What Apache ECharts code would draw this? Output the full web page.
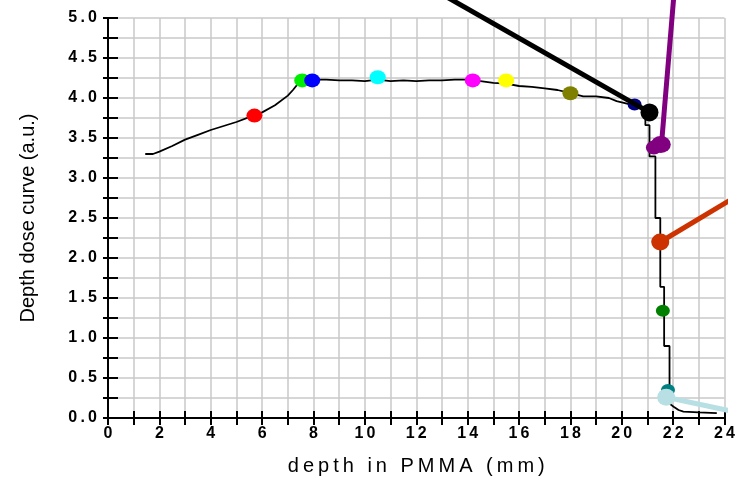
<!DOCTYPE html>
<html>
<head>
<meta charset="utf-8">
<script src="https://cdn.jsdelivr.net/npm/echarts@6/dist/echarts.min.js"></script>
<style>
	html,body{margin:0;padding:0;background:#fff;}
	#main{width:738px;height:484px;}
</style>
</head>
<body>
<div id="main"></div>
<script>
	// depth dose curve
	var depth = [1.45,1.75,2.0,2.5,3.0,3.5,4.0,4.5,5.0,5.5,6.0,6.5,7.0,7.2,7.45,7.6,8.0,8.5,9.0,9.5,10.0,10.5,11.0,11.5,12.0,12.5,13.0,13.5,14.0,14.5,15.0,15.5,16.0,16.5,17.0,17.5,18.0,18.5,19.0,19.5,19.8,20.2,20.5,20.9,20.92,20.92,21.08,21.08,21.31,21.31,21.5,21.5,21.65,21.65,21.86,21.86,22.02,22.21,22.4,23.0,23.7];
	var dose  = [3.30,3.30,3.33,3.40,3.48,3.54,3.60,3.65,3.70,3.76,3.82,3.91,4.03,4.10,4.20,4.23,4.23,4.23,4.22,4.22,4.21,4.23,4.21,4.22,4.21,4.22,4.22,4.23,4.23,4.21,4.19,4.18,4.15,4.14,4.12,4.10,4.06,4.02,4.02,4.00,3.96,3.93,3.91,3.85,3.78,3.66,3.66,3.27,3.27,2.50,2.50,1.64,1.64,0.90,0.90,0.18,0.14,0.10,0.08,0.07,0.06];

	// coloured dots on the curve
	var dotX = [5.7,7.56,7.95,10.5,14.2,15.5,18.0,20.5,21.6,21.8];
	var dotY = [3.78,4.22,4.22,4.26,4.22,4.22,4.06,3.92,1.34,0.35];

	// pointer lines: [start, end]
	var blackLine  = [[21.08,3.82],[12.0,5.48]];
	var purpleLine = [[21.56,3.47],[22.08,5.48]];
	var orangeLine = [[21.5,2.2],[25.24,2.92]];
	var blueLine   = [[21.73,0.26],[25.24,0.02]];

	// big dots at the end of the pointer lines
	var bigX = [21.08,21.25,21.52,21.4,21.5,21.73];
	var bigY = [3.82,3.38,3.42,2.2,2.2,0.26];

	// axes: grid every 1 mm / 0.25, labels every 2 mm / 0.5
	var xTicks = {min:0,max:24,step:1,labelEvery:2};
	var yTicks = {min:0,max:5,step:0.25,labelEvery:0.5};

	var dotColors = ['#ff0000','#00ee00','#0000ff','#00ffff','#ff00ff','#ffff00','#808000','#000080','#008000','#008080'];
	var bigColors = ['#000000','#800080','#800080','#991100','#cc3300','#b8e0e4'];
	var bigSizes = [[18,18],[16,14],[20,17],[12,13],[18,17],[18,17]];

	function spaced(s){ return String(s).split('').join('\u2009'); }
	function isMult(v,m){ var r = v/m; return Math.abs(r-Math.round(r))<1e-6; }

	var gridColor = '#c8c8c8';
	var font = 'Liberation Sans, Arial, sans-serif';
	var lbl = {color:'#000',fontFamily:font,fontWeight:'bold',fontSize:16};

	var line = [];
	for(var i=0;i<depth.length;i++){ line.push([depth[i],dose[i]]); }
	var dots = [];
	for(var i=0;i<dotX.length;i++){
		dots.push({value:[dotX[i],dotY[i]],itemStyle:{color:dotColors[i],opacity:1},symbolSize:(i>=7?[14,12]:[16,14])});
	}
	var bigs = [];
	for(var i=0;i<bigX.length;i++){
		bigs.push({value:[bigX[i],bigY[i]],itemStyle:{color:bigColors[i],opacity:1},symbolSize:bigSizes[i]});
	}

	function pointer(pts,color){
		return {type:'line',data:pts,symbol:'none',clip:false,silent:true,z:5,
			lineStyle:{color:color,width:5}};
	}

	var option = {
		animation:false,
		backgroundColor:'#fff',
		grid:{left:108,right:10,top:18,bottom:66},
		xAxis:[{
			type:'value',min:xTicks.min,max:xTicks.max,interval:xTicks.step,
			name:spaced('depth in PMMA (mm)'),nameLocation:'middle',nameGap:38,
			nameTextStyle:{color:'#000',fontFamily:font,fontSize:20},
			axisLine:{show:true,onZero:false,lineStyle:{color:'#000',width:2}},
			axisTick:{inside:true,length:7,lineStyle:{color:'#000',width:2}},
			axisLabel:Object.assign({margin:8,formatter:function(v){return isMult(v,xTicks.labelEvery)?spaced(v):'';}},lbl),
			splitLine:{show:true,lineStyle:{color:gridColor,width:1.5}}
		},{
			type:'value',position:'top',min:xTicks.min,max:xTicks.max,interval:xTicks.step,
			axisLine:{show:true,lineStyle:{color:'#000',width:2}},
			axisTick:{inside:true,length:7,lineStyle:{color:'#000',width:2}},
			axisLabel:{show:false},splitLine:{show:false}
		}],
		yAxis:[{
			type:'value',min:yTicks.min,max:yTicks.max,interval:yTicks.step,
			name:'Depth dose curve (a.u.)',nameLocation:'middle',nameGap:70,
			nameTextStyle:{color:'#000',fontFamily:font,fontSize:20},
			axisLine:{show:true,onZero:false,lineStyle:{color:'#000',width:2}},
			axisTick:{inside:true,length:10,lineStyle:{color:'#000',width:2}},
			axisLabel:Object.assign({margin:11,formatter:function(v){return isMult(v,yTicks.labelEvery)?spaced(v.toFixed(1)):'';}},lbl),
			splitLine:{show:true,lineStyle:{color:gridColor,width:1.5}}
		},{
			type:'value',position:'right',min:yTicks.min,max:yTicks.max,interval:yTicks.step,
			axisLine:{show:true,lineStyle:{color:'#000',width:2}},
			axisTick:{inside:true,length:5,lineStyle:{color:'#000',width:2}},
			axisLabel:{show:false},splitLine:{show:false}
		}],
		series:[
			{type:'line',data:line,symbol:'none',lineStyle:{color:'#000',width:1.8},z:3},
			{type:'scatter',data:dots,symbol:'circle',z:4},
			pointer(blackLine,'#000000'),
			pointer(purpleLine,'#800080'),
			pointer(orangeLine,'#cc3300'),
			pointer(blueLine,'#b8e0e4'),
			{type:'scatter',data:bigs,symbol:'circle',z:6,clip:false}
		]
	};
	var myChart = echarts.init(document.getElementById('main'));
	myChart.setOption(option);
</script>
</body>
</html>
